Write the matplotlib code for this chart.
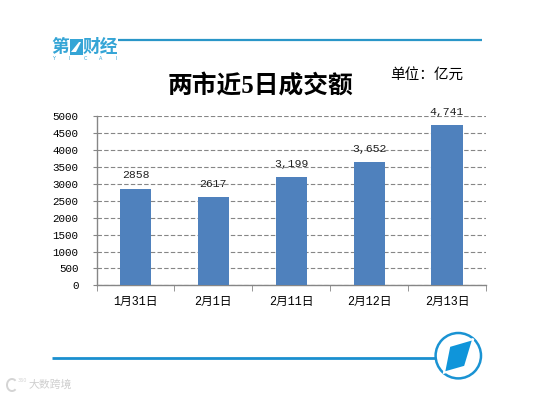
import numpy as np
import matplotlib
matplotlib.use('Agg')
import matplotlib.pyplot as plt
from matplotlib.patches import Circle, Polygon, Arc, Rectangle

# data
dates = ['1月31日', '2月1日', '2月11日', '2月12日', '2月13日']
volumes = [2858, 2617, 3199, 3652, 4741]
value_labels = ['2858', '2617', '3,199', '3,652', '4,741']
y_ticks = [0, 500, 1000, 1500, 2000, 2500, 3000, 3500, 4000, 4500, 5000]

W, H = 543, 396
mono = ['Liberation Mono', 'Noto Sans CJK SC', 'DejaVu Sans']
plt.rcParams['font.family'] = ['Liberation Serif', 'Noto Sans CJK SC', 'DejaVu Sans']

fig = plt.figure(figsize=(W / 100, H / 100), dpi=100)

# overlay in pixel coordinates for the slide decoration
bg = fig.add_axes([0, 0, 1, 1])
bg.set_xlim(0, W)
bg.set_ylim(H, 0)
bg.axis('off')

blue = '#2a96c8'
logo = '#35a5d6'
bg.plot([118, 482], [40, 40], color=blue, lw=1.6, solid_capstyle='butt')
bg.plot([52, 436], [357.5, 357.5], color='#1a8fcf', lw=2, solid_capstyle='butt')

# logo top left
cjk = ['Noto Sans CJK SC']
bg.text(60, 47, '第', color=logo, fontsize=12.8, fontweight='bold', ha='center', va='center', family=cjk)
bg.add_patch(Rectangle((69.5, 39), 13, 16, color=logo, lw=0))
bg.add_patch(Polygon([[79, 42], [81, 42], [76, 52], [71, 52]], color='white', lw=0))
bg.text(100.5, 47, '财经', color=logo, fontsize=12.8, fontweight='bold', ha='center', va='center', family=cjk)
for letter, lx in zip('YICAI', np.linspace(54, 116, 5)):
    bg.text(lx, 59, letter, color=logo, fontsize=3.5, ha='center', va='center', family=['DejaVu Sans'])

# round logo bottom right
bg.add_patch(Circle((458.3, 355.7), 22.7, fill=False, ec='#1a93d3', lw=1.8))
bg.add_patch(Polygon([[449.3, 346], [473.3, 339], [465, 366.7], [444, 372.7]],
                     fc='#0f95da', ec='white', lw=1.5, joinstyle='miter'))

# watermark
bg.add_patch(Arc((12, 385), 10, 12, theta1=50, theta2=310, ec='#d4d4d4', lw=1.4))
bg.text(22, 380.5, '360', color='#d4d4d4', fontsize=3.5, ha='center', va='center', family=['DejaVu Sans'])
bg.text(50.5, 385, '大数跨境', color='#cfcfcf', fontsize=7.8, ha='center', va='center', family=cjk)

# titles
bg.text(260, 86, '两市近5日成交额', fontsize=17.8, fontweight='bold', color='black',
        ha='center', va='center')
bg.text(426.5, 75, '单位：亿元', fontsize=10.5, color='black', ha='center', va='center')

# chart
ax = fig.add_axes([96.5 / W, 1 - 285.3 / H, (486 - 96.5) / W, (285.3 - 116.3) / H])
ax.patch.set_alpha(0)
x = np.arange(len(dates))
ax.bar(x, volumes, width=0.4, color='#4f81bd', zorder=3)
for i in range(len(x)):
    ax.annotate(value_labels[i], (x[i], volumes[i]), xytext=(0, 6), textcoords='offset points',
                ha='center', va='bottom', fontsize=8.2, color='#222222', zorder=4, family=mono)

ax.set_xlim(-0.5, len(dates) - 0.5)
ax.set_ylim(0, 5000)
ax.set_yticks(y_ticks)
ax.set_xticks(x)
ax.set_xticklabels(dates, family=mono, fontsize=8.5)
ax.set_yticklabels(y_ticks, family=mono, fontsize=7.8)
ax.set_xticks(np.arange(len(dates) + 1) - 0.5, minor=True)
ax.tick_params(axis='x', which='major', length=0, pad=8)
ax.tick_params(axis='x', which='minor', length=4, color='#868686', direction='out')
ax.tick_params(axis='y', length=3, color='#868686', pad=10)
ax.grid(axis='y', color='#868686', linestyle='--', linewidth=0.8, dashes=(4, 2), zorder=0)
for s in ['top', 'right']:
    ax.spines[s].set_visible(False)
for s in ['left', 'bottom']:
    ax.spines[s].set_color('#868686')
    ax.spines[s].set_linewidth(1)

fig.savefig('out.png', dpi=100)
